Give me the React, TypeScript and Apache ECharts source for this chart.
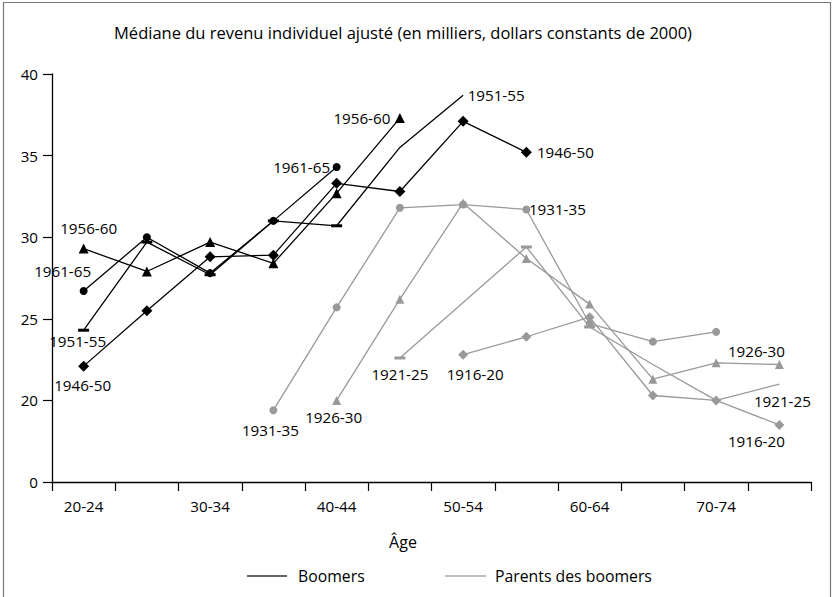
import React, { useEffect, useRef } from 'react';
import * as echarts from 'echarts';

// ---------- data ----------
const ages = ['20-24', '25-29', '30-34', '35-39', '40-44', '45-49', '50-54', '55-59', '60-64', '65-69', '70-74', '75-79'];

const boomers1946_50 = [22.1, 25.5, 28.8, 28.9, 33.3, 32.8, 37.1, 35.2, null, null, null, null];
const boomers1951_55 = [24.3, 29.7, 27.7, 31.0, 30.7, 35.5, 38.7, null, null, null, null, null];
const boomers1956_60 = [29.3, 27.9, 29.7, 28.4, 32.7, 37.3, null, null, null, null, null, null];
const boomers1961_65 = [26.7, 30.0, 27.8, 31.0, 34.3, null, null, null, null, null, null, null];

const parents1916_20 = [null, null, null, null, null, null, 22.8, 23.9, 25.1, 20.3, 20.0, 18.5];
const parents1921_25 = [null, null, null, null, null, 22.6, 26.0, 29.4, 24.5, 22.2, 20.0, 21.0];
const parents1926_30 = [null, null, null, null, 20.0, 26.2, 32.1, 28.7, 25.9, 21.3, 22.3, 22.2];
const parents1931_35 = [null, null, null, 19.4, 25.7, 31.8, 32.0, 31.7, 24.7, 23.6, 24.2, null];

const titleText = 'Médiane du revenu individuel ajusté (en milliers, dollars constants de 2000)';
const xAxisName = 'Âge';
const legendNames = ['Boomers', 'Parents des boomers'];
const yBreakValue = 15; // axis is broken: the bottom tick stands for 0
const yBreakLabel = '0';

// ---------- styles ----------
const FONT = '"Open Sans", "Noto Sans", sans-serif';
const BLACK = '#000000';
const GRAY = '#999999';
const LABEL_SIZE = 15.2;

type LabelSpec = { i: number; off: [number, number] };
type Spec = {
  name: string;
  data: (number | null)[];
  color: string;
  symbol: string;
  size: number | number[];
  labels: LabelSpec[];
  hide: number[];
};

const specs: Spec[] = [
  { name: '1931-35', data: parents1931_35, color: GRAY, symbol: 'circle', size: 8, labels: [{ i: 3, off: [-3, 20] }, { i: 7, off: [31, 0] }], hide: [] },
  { name: '1926-30', data: parents1926_30, color: GRAY, symbol: 'triangle', size: 9, labels: [{ i: 4, off: [-3, 17] }, { i: 11, off: [-23, -13] }], hide: [] },
  { name: '1921-25', data: parents1921_25, color: GRAY, symbol: 'rect', size: [11, 3], labels: [{ i: 5, off: [0, 16] }, { i: 11, off: [3, 17] }], hide: [6, 9, 10, 11] },
  { name: '1916-20', data: parents1916_20, color: GRAY, symbol: 'diamond', size: 10, labels: [{ i: 6, off: [12, 19] }, { i: 11, off: [-23, 16] }], hide: [] },
  { name: '1946-50', data: boomers1946_50, color: BLACK, symbol: 'diamond', size: 11, labels: [{ i: 0, off: [-1, 19] }, { i: 7, off: [39, 0] }], hide: [] },
  { name: '1951-55', data: boomers1951_55, color: BLACK, symbol: 'rect', size: [11, 3], labels: [{ i: 0, off: [-6, 11] }, { i: 6, off: [33, 0] }], hide: [5, 6] },
  { name: '1956-60', data: boomers1956_60, color: BLACK, symbol: 'triangle', size: 10, labels: [{ i: 0, off: [5, -21] }, { i: 5, off: [-38, 0] }], hide: [] },
  { name: '1961-65', data: boomers1961_65, color: BLACK, symbol: 'circle', size: 8, labels: [{ i: 0, off: [-21, -20] }, { i: 4, off: [-35, 0] }], hide: [] },
];

function buildSeries(s: Spec) {
  const data = s.data.map((v, idx) => {
    if (v === null) return null;
    const item: any = { value: v };
    if (s.hide.includes(idx)) item.symbolSize = 0;
    const lab = s.labels.find((l) => l.i === idx);
    if (lab) {
      item.label = {
        show: true,
        formatter: s.name,
        position: 'inside',
        offset: lab.off,
        color: '#000',
        fontFamily: FONT,
        fontSize: LABEL_SIZE,
        align: 'center',
        verticalAlign: 'middle',
      };
    }
    return item;
  });
  return {
    type: 'line',
    name: s.name,
    data,
    symbol: s.symbol,
    symbolSize: s.size,
    showAllSymbol: true,
    connectNulls: false,
    lineStyle: { color: s.color, width: 1.3 },
    itemStyle: { color: s.color },
    label: { show: false },
    emphasis: { disabled: true },
    silent: true,
  };
}

export default function App() {
  const ref = useRef<HTMLDivElement>(null);
  useEffect(() => {
    if (!ref.current) return;
    const chart = echarts.init(ref.current, undefined, { renderer: 'svg' });
    const option: any = {
      animation: false,
      backgroundColor: '#ffffff',
      textStyle: { fontFamily: FONT },
      grid: { left: 52, right: 22, top: 74, bottom: 115, containLabel: false },
      xAxis: {
        type: 'category',
        data: ages,
        boundaryGap: true,
        axisLine: { show: true, lineStyle: { color: BLACK, width: 1.3 } },
        axisTick: { show: true, interval: 0, length: 9, lineStyle: { color: BLACK, width: 1.2 } },
        axisLabel: { interval: 1, margin: 16, color: '#000', fontSize: LABEL_SIZE, fontFamily: FONT },
        splitLine: { show: false },
      },
      yAxis: {
        type: 'value',
        min: yBreakValue,
        max: 40,
        interval: 5,
        axisLine: { show: true, lineStyle: { color: BLACK, width: 1.3 } },
        axisTick: { show: true, length: 9, lineStyle: { color: BLACK, width: 1.2 } },
        axisLabel: {
          margin: 14,
          color: '#000',
          fontSize: LABEL_SIZE,
          fontFamily: FONT,
          formatter: (v: number) => (v === yBreakValue ? yBreakLabel : String(v)),
        },
        splitLine: { show: false },
      },
      series: specs.map(buildSeries),
      graphic: [
        {
          type: 'rect',
          shape: { x: 3.5, y: 2.5, width: 827, height: 620 },
          style: { fill: 'none', stroke: '#777777', lineWidth: 1.2 },
          silent: true,
        },
        {
          type: 'text',
          x: 403,
          y: 32,
          style: { text: titleText, fill: '#000', font: `16.5px ${FONT}`, textAlign: 'center', textVerticalAlign: 'middle' },
        },
        {
          type: 'text',
          x: 403,
          y: 542,
          style: { text: xAxisName, fill: '#000', font: `16px ${FONT}`, textAlign: 'center', textVerticalAlign: 'middle' },
        },
        {
          type: 'line',
          shape: { x1: 247, y1: 576, x2: 287, y2: 576 },
          style: { stroke: '#333333', lineWidth: 1.5 },
        },
        {
          type: 'text',
          x: 298,
          y: 576,
          style: { text: legendNames[0], fill: '#000', font: `15.8px ${FONT}`, textAlign: 'left', textVerticalAlign: 'middle' },
        },
        {
          type: 'line',
          shape: { x1: 445, y1: 576, x2: 486, y2: 576 },
          style: { stroke: '#aaaaaa', lineWidth: 1.5 },
        },
        {
          type: 'text',
          x: 495,
          y: 576,
          style: { text: legendNames[1], fill: '#000', font: `15.8px ${FONT}`, textAlign: 'left', textVerticalAlign: 'middle' },
        },
      ],
    };
    chart.setOption(option);
    return () => chart.dispose();
  }, []);
  return (
    <div
      ref={ref}
      style={{ position: 'fixed', left: 0, top: 0, width: 833, height: 597, background: '#fff' }}
    />
  );
}
